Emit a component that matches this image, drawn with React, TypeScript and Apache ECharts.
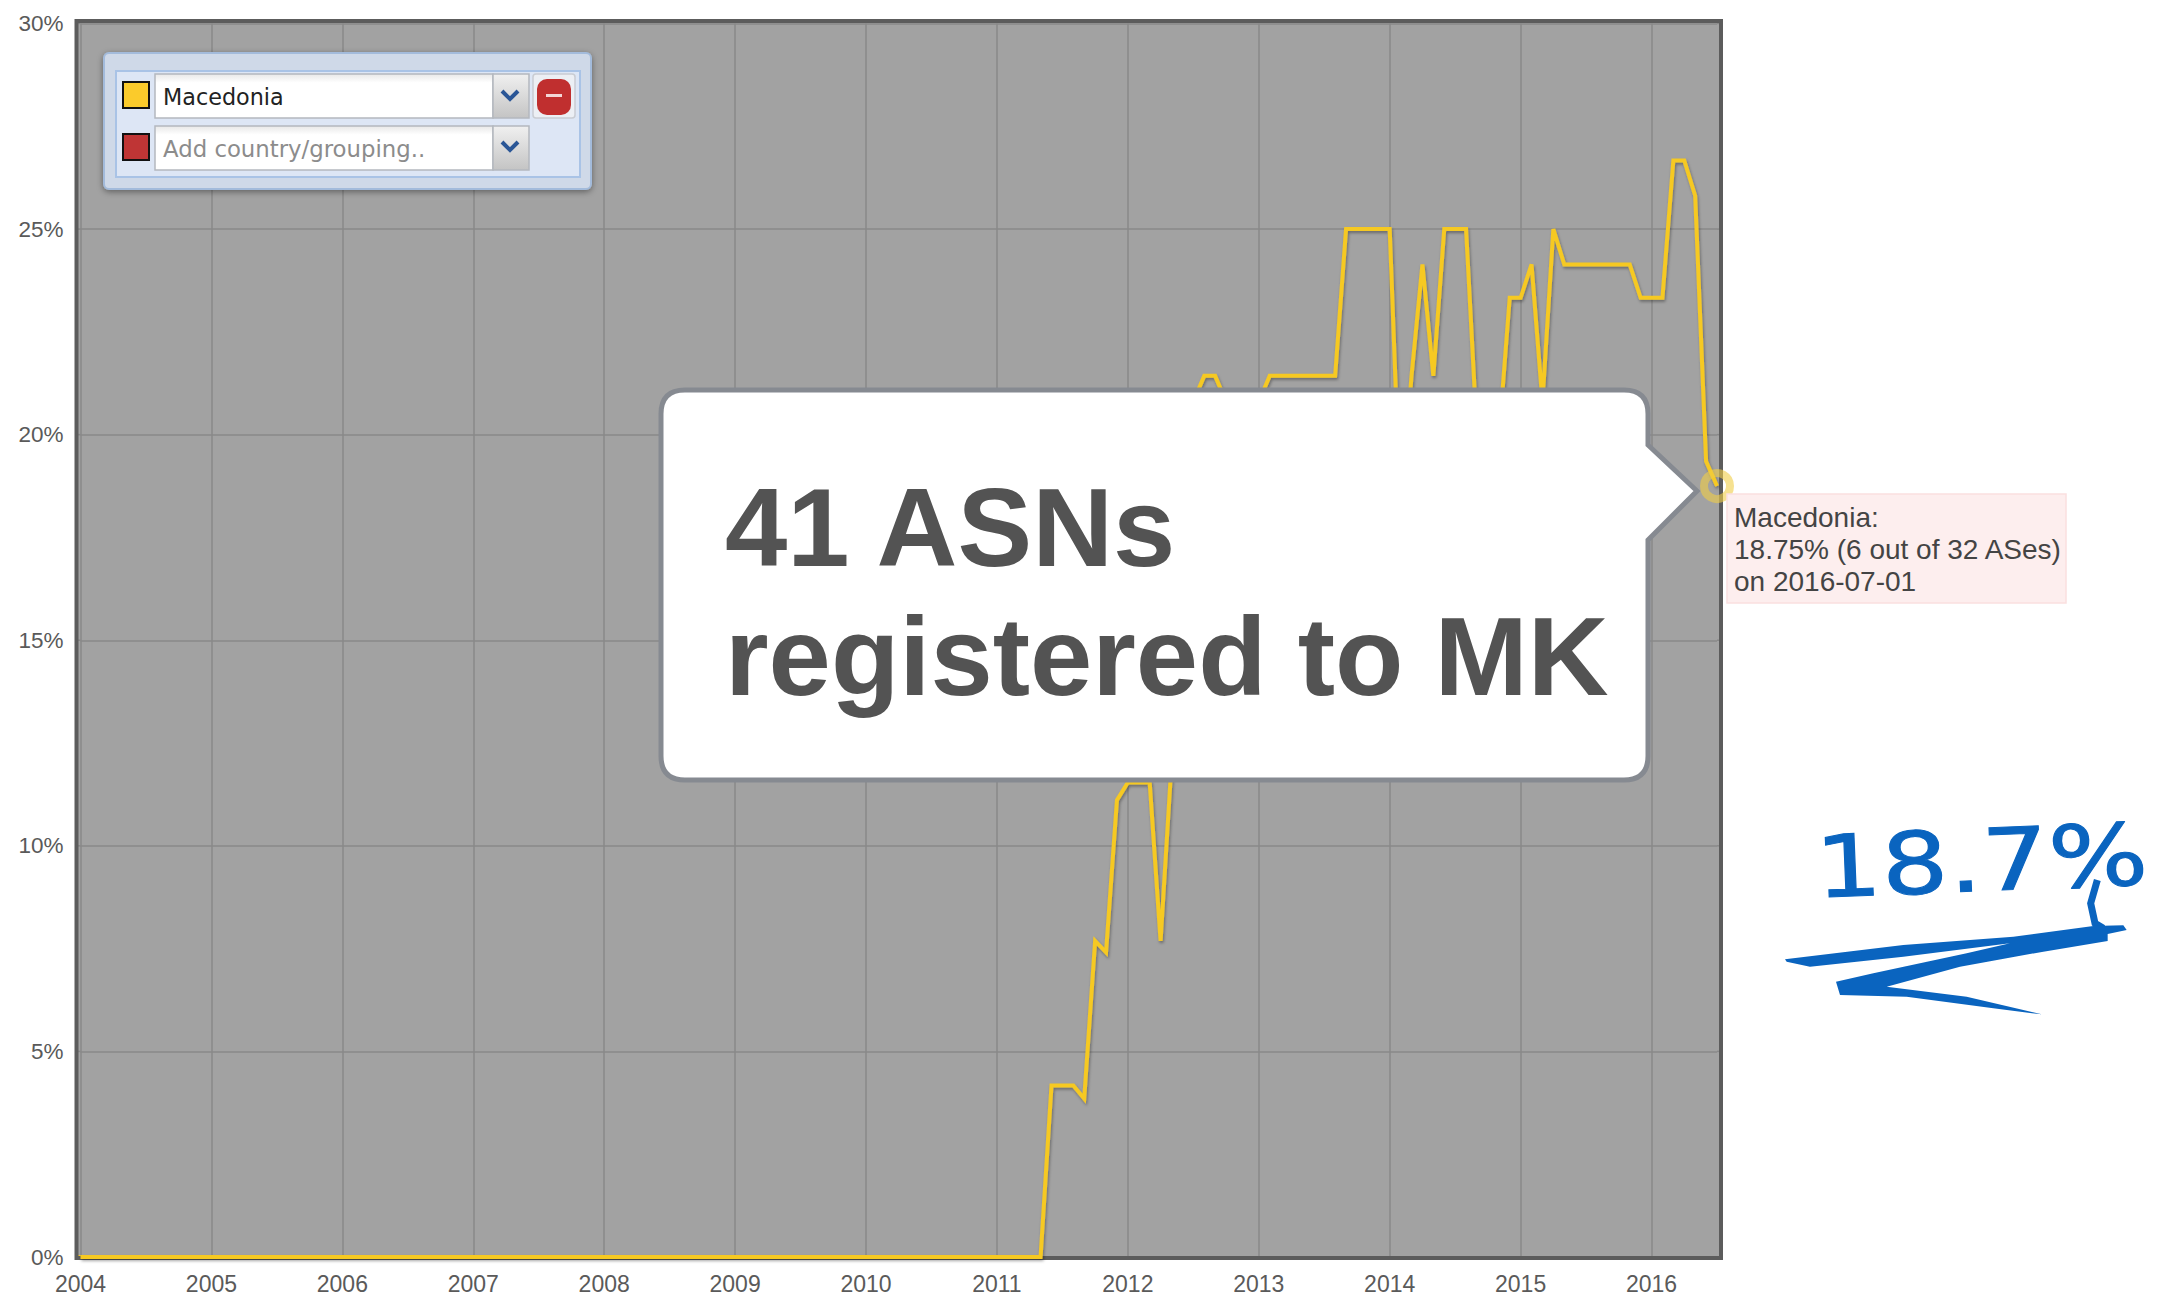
import React, { useEffect, useRef } from "react";
import * as echarts from "echarts";

const yearsList = [2004, 2005, 2006, 2007, 2008, 2009, 2010, 2011, 2012, 2013, 2014, 2015, 2016];
const monthsList = ["01", "02", "03", "04", "05", "06", "07", "08", "09", "10", "11", "12"];
const categories: string[] = [];
yearsList.forEach((y) => monthsList.forEach((m) => {
  if (y < 2016 || Number(m) <= 7) categories.push(`${y}-${m}`);
}));

const zeros2004to2011May = [
  0,0,0,0,0,0,0,0,0,0,0,0, 0,0,0,0,0,0,0,0,0,0,0,0, 0,0,0,0,0,0,0,0,0,0,0,0,
  0,0,0,0,0,0,0,0,0,0,0,0, 0,0,0,0,0,0,0,0,0,0,0,0, 0,0,0,0,0,0,0,0,0,0,0,0,
  0,0,0,0,0,0,0,0,0,0,0,0, 0,0,0,0,0,
];
const values2011 = [4.17, 4.17, 4.17, 3.85, 7.69, 7.41, 11.11];
const values2012 = [11.54, 11.54, 11.54, 7.69, 12, 17, 20.8, 21.43, 21.43, 20.8, 20.8, 20.8];
const values2013 = [20.8, 21.43, 21.43, 21.43, 21.43, 21.43, 21.43, 21.43, 25, 25, 25, 25];
const values2014 = [25, 18, 21.43, 24.14, 21.43, 25, 25, 25, 20, 20, 19.9, 23.33];
const values2015 = [23.33, 24.14, 20.8, 25, 24.14, 24.14, 24.14, 24.14, 24.14, 24.14, 24.14, 23.33];
const values2016 = [23.33, 23.33, 26.67, 26.67, 25.81, 19.35, 18.75];
const macedonia = [...zeros2004to2011May, ...values2011, ...values2012, ...values2013, ...values2014, ...values2015, ...values2016];

const yTicks = [0, 5, 10, 15, 20, 25, 30];
const tooltipLines = ["Macedonia:", "18.75% (6 out of 32 ASes)", "on 2016-07-01"];
const calloutLines = ["41 ASNs", "registered to MK"];

const YELLOW = "#f6c922";
const BLUE = "#0a64bf";
const GRID = "#888888";
const isJan = (_: number, v: string) => v.endsWith("-01");

const r = 24;
const calloutPath = `M${661 + r} 390 L${1648 - r} 390 Q1648 390 1648 ${390 + r} L1648 445 L1697 491 L1648 540 L1648 ${780 - r} Q1648 780 ${1648 - r} 780 L${661 + r} 780 Q661 780 661 ${780 - r} L661 ${390 + r} Q661 390 ${661 + r} 390 Z`;

let registered = false;
function register() {
  if (registered) return;
  registered = true;
  echarts.graphic.registerShape("callout", echarts.graphic.extendPath(calloutPath, {}) as any);
}

const zx = (px: number) => 1760 + px / 3;
const zy = (py: number) => 780 + py / 3;
const zp = (pts: number[][]) => pts.map(([a, b]) => [zx(a), zy(b)]);

function rect(x: number, y: number, w: number, h: number, fill: any, stroke: string | null, lw = 1, rr = 0, extra: any = {}) {
  return { type: "rect", shape: { x, y, width: w, height: h, r: rr }, style: { fill, stroke: stroke ?? undefined, lineWidth: lw, ...extra } };
}
const inputGrad = { type: "linear", x: 0, y: 0, x2: 0, y2: 1, colorStops: [{ offset: 0, color: "#e8e8e8" }, { offset: 0.2, color: "#ffffff" }, { offset: 1, color: "#ffffff" }] };
const btnGrad = { type: "linear", x: 0, y: 0, x2: 0, y2: 1, colorStops: [{ offset: 0, color: "#f0f0f0" }, { offset: 1, color: "#c4c4c4" }] };
function chevron(cx: number, cy: number) {
  return { type: "polyline", shape: { points: [[cx - 8, cy - 4], [cx, cy + 4], [cx + 8, cy - 4]] }, style: { stroke: "#2a5696", lineWidth: 4, fill: "none" } };
}

export default function App() {
  const ref = useRef<HTMLDivElement>(null);
  useEffect(() => {
    register();
    const chart = echarts.init(ref.current!, null, { renderer: "svg" });
    const overlay: any[] = [
      // panel
      rect(104, 53, 487, 136, "#cfd9e8", "#a3bbdb", 2, 5, { shadowBlur: 6, shadowColor: "rgba(0,0,0,0.4)", shadowOffsetY: 2 }),
      rect(116, 71, 464, 106, "#dde6f5", "#a9c3e6", 2),
      rect(123, 82, 26, 26, "#fbcb2b", "#111", 2),
      rect(123, 134, 26, 26, "#bf3535", "#111", 2),
      rect(155, 74, 338, 44, inputGrad, "#b4b8bf", 1.5),
      rect(493, 74, 36, 44, btnGrad, "#b4b8bf", 1.5),
      rect(155, 126, 338, 44, inputGrad, "#b4b8bf", 1.5),
      rect(493, 126, 36, 44, btnGrad, "#b4b8bf", 1.5),
      chevron(510, 95),
      chevron(510, 146),
      rect(533, 74, 42, 44, "#eceff4", "#c9ccd2", 1.5, 3),
      rect(537, 79, 34, 36, "#c02f2f", null, 1, 10),
      rect(546, 94, 16, 3, "#f3d6d6", null),
      { type: "text", x: 163, y: 97, style: { text: "Macedonia", font: '22.3px "DejaVu Sans"', fill: "#222", textVerticalAlign: "middle" } },
      { type: "text", x: 163, y: 149, style: { text: "Add country/grouping..", font: '22.8px "DejaVu Sans"', fill: "#8c8c8c", textVerticalAlign: "middle" } },
      // callout
      { type: "callout", x: 0, y: 0, style: { fill: "#ffffff", stroke: "#868a91", lineWidth: 5 } },
      ...calloutLines.map((t, i) => ({
        type: "text", x: 725, y: 527 + i * 129,
        style: { text: t, font: 'bold 112px "Liberation Sans"', fill: "#535353", textVerticalAlign: "middle" },
      })),
      // tooltip box
      rect(1727, 494, 339, 109, "#fdeeee", "#fae0e0", 1.5),
      ...tooltipLines.map((t, i) => ({
        type: "text", x: 1734, y: 517 + i * 32,
        style: { text: t, font: '28px "Liberation Sans"', fill: "#444", textVerticalAlign: "middle" },
      })),
      // handwriting
      { type: "text", x: 1815, y: 868, scaleX: 1.22, rotation: 0.04, style: { text: "18.7%", font: '86px "DejaVu Sans"', fill: BLUE, stroke: BLUE, lineWidth: 1, textVerticalAlign: "middle" } },
      { type: "polyline", shape: { points: zp([[1012, 300], [992, 370], [1005, 430], [1030, 445]]) }, style: { stroke: BLUE, lineWidth: 7, fill: "none" } },
      { type: "polygon", shape: { points: zp([[75, 538], [430, 495], [760, 470], [1000, 438], [1090, 436], [1100, 450], [1043, 462], [1043, 483], [850, 515], [600, 560], [380, 620], [620, 650], [845, 703], [700, 685], [440, 650], [240, 645], [228, 605], [340, 580], [620, 520], [750, 490], [430, 530], [150, 560], [80, 545]]) }, style: { fill: BLUE } },
    ].map((e, i) => ({ ...e, z: 100, z2: i }));
    const base = (): any => ({
      animation: false,
      backgroundColor: "#ffffff",
      grid: { left: 80.5, right: 453, top: 23.5, bottom: 38 },
      xAxis: {
        type: "category",
        data: categories,
        boundaryGap: false,
        axisLine: { show: false },
        axisTick: { show: false },
        axisLabel: { interval: isJan, formatter: (v: string) => v.slice(0, 4), color: "#5a5a5a", fontSize: 23, fontFamily: "Liberation Sans", margin: 15 },
        splitLine: { show: true, interval: isJan, lineStyle: { color: GRID, width: 1.5 } },
      },
      yAxis: {
        type: "value",
        min: 0,
        max: 30,
        interval: 5,
        axisLine: { show: false },
        axisTick: { show: false },
        axisLabel: { formatter: "{value}%", color: "#5a5a5a", fontSize: 22.5, fontFamily: "Liberation Sans", margin: 17 },
        splitLine: { show: true, lineStyle: { color: GRID, width: 1.5 } },
      },
      series: [
        {
          type: "line",
          name: "Macedonia",
          data: macedonia,
          symbol: "none",
          clip: false,
          lineStyle: { color: YELLOW, width: 4, join: "miter", shadowColor: "rgba(0,0,0,0.35)", shadowBlur: 3, shadowOffsetY: 2, shadowOffsetX: 1 },
          z: 6,
        },
        {
          type: "scatter",
          data: [[categories[categories.length - 1], values2016[values2016.length - 1]]],
          symbol: "circle",
          symbolSize: 26,
          clip: false,
          itemStyle: { color: "rgba(0,0,0,0)", borderColor: "rgba(240,205,70,0.75)", borderWidth: 8 },
          z: 7,
        },
      ],
    });
    chart.setOption(base());
    // plot background, frame and the stubs of the gridlines that run out to the frame
    const frame = { left: 76.5, top: 21, right: 1721, bottom: 1258 };
    const leftEdge = chart.convertToPixel({ xAxisIndex: 0 }, categories[0]) as number;
    const rightEdge = chart.convertToPixel({ xAxisIndex: 0 }, categories[categories.length - 1]) as number;
    const stubs: any[] = [];
    yTicks.forEach((t) => {
      const y = chart.convertToPixel({ yAxisIndex: 0 }, t) as number;
      stubs.push({ type: "line", shape: { x1: frame.left, y1: y, x2: leftEdge, y2: y }, style: { stroke: t === 0 ? YELLOW : GRID, lineWidth: t === 0 ? 4 : 1.5 }, z: 1 });
      stubs.push({ type: "line", shape: { x1: rightEdge, y1: y, x2: frame.right, y2: y }, style: { stroke: GRID, lineWidth: 1.5 }, z: 1 });
    });
    chart.setOption({
      graphic: {
        elements: [
          { ...rect(frame.left, frame.top, frame.right - frame.left, frame.bottom - frame.top, "#a2a2a2", null), z: -1 },
          ...stubs,
          { ...rect(frame.left, frame.top, frame.right - frame.left, frame.bottom - frame.top, "none", "#5c5c5c", 4), z: 5 },
          ...overlay,
        ],
      },
    });
    return () => chart.dispose();
  }, []);
  return <div ref={ref} style={{ position: "fixed", left: 0, top: 0, width: 2170, height: 1295 }} />;
}
